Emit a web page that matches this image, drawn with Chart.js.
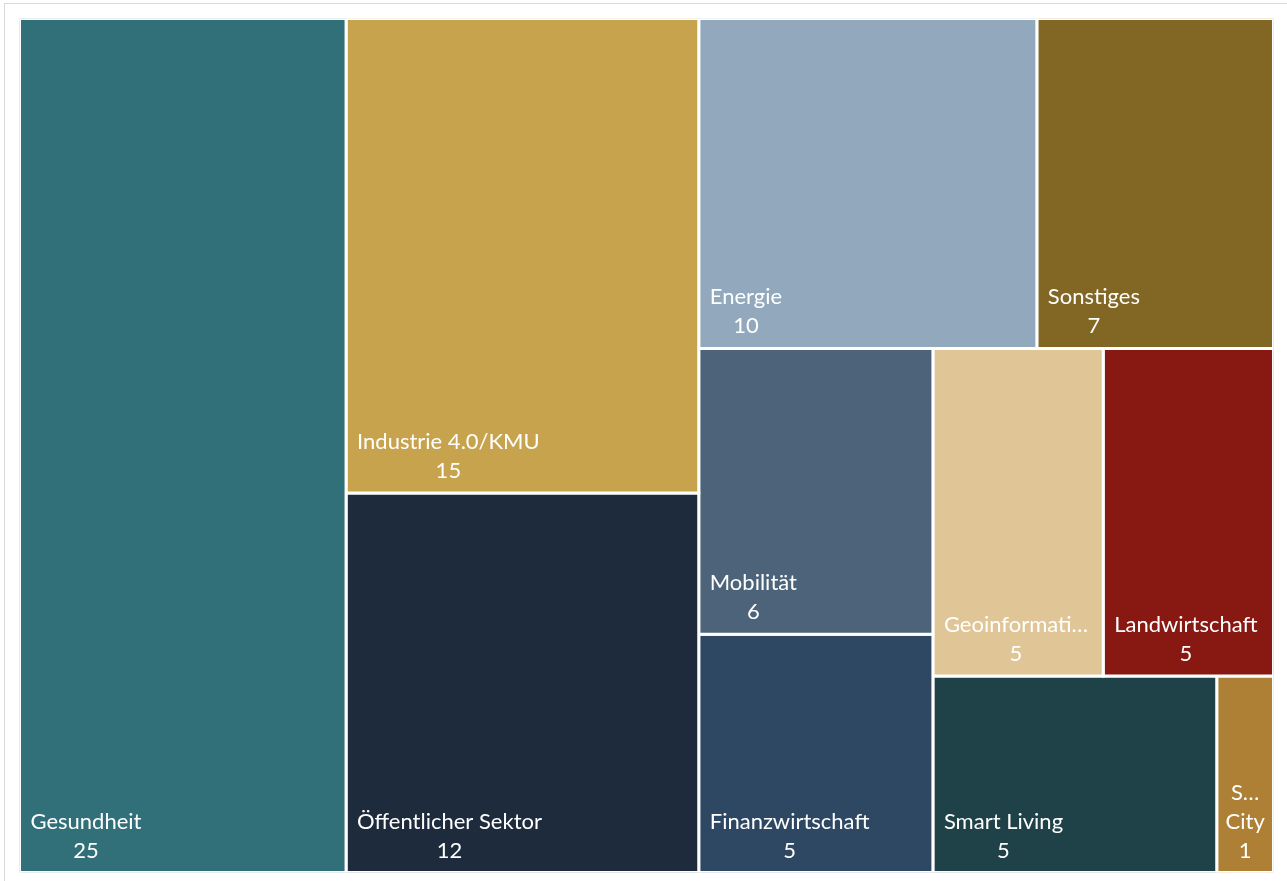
<!DOCTYPE html>
<html>
<head>
<meta charset="utf-8">
<script src="https://cdn.jsdelivr.net/npm/chart.js@4.4.1/dist/chart.umd.min.js"></script>
<style>
  html, body { margin: 0; padding: 0; background: #fff; }
  #frame { position: absolute; left: 4px; top: 3px; right: 0; bottom: 0;
           border-left: 1px solid #d9d9d9; border-top: 1px solid #d9d9d9; }
  #chart { position: absolute; left: 0; top: 0; }
</style>
</head>
<body>
<div id="frame"></div>
<canvas id="chart" width="1287" height="881"></canvas>
<script>
const categories = ['Gesundheit', 'Industrie 4.0/KMU', 'Öffentlicher Sektor', 'Energie', 'Sonstiges',
  'Mobilität', 'Finanzwirtschaft', 'Geoinformation', 'Landwirtschaft', 'Smart Living', 'Smart City'];
const values = [25, 15, 12, 10, 7, 6, 5, 5, 5, 5, 1];
const colors = ['#327079', '#c8a34e', '#1e2b3c', '#92a8bd', '#826624',
  '#4c6379', '#2e4864', '#e0c597', '#871812', '#1f4249', '#ad8035'];

// layout space of the treemap (data units of the hidden x / y scales)
const W = 200, H = 100;
const FONT = '22px Lato';
const PAD = 11;

const sum = arr => arr.reduce((a, b) => a + b, 0);

// squarified treemap, rows laid along the shorter side, y measured from the top
const squarify = vals => {
  const k = W * H / sum(vals);
  const rects = [];
  let x = 0, y = 0, w = W, h = H, i = 0;
  while (i < vals.length) {
    const vertical = w >= h;
    const side = vertical ? h : w;
    const worst = row => {
      const t = sum(row) * k / side;
      return Math.max(...row.map(v => Math.max(t * t / (v * k), v * k / (t * t))));
    };
    const row = [vals[i]];
    let j = i + 1;
    while (j < vals.length && worst([...row, vals[j]]) <= worst(row)) row.push(vals[j++]);
    const t = sum(row) * k / side;
    let off = 0;
    row.forEach(v => {
      const len = v * k / t;
      rects.push(vertical
        ? { x0: x, x1: x + t, y0: y + off, y1: y + off + len }
        : { x0: x + off, x1: x + off + len, y0: y, y1: y + t });
      off += len;
    });
    if (vertical) { x += t; w -= t; } else { y += t; h -= t; }
    i = j;
  }
  // flip to chart coordinates (y up)
  return rects.map(r => ({ x0: r.x0, x1: r.x1, top: H - r.y0, bottom: H - r.y1 }));
};

const cells = squarify(values);

const datasets = cells.map((c, i) => ({
  label: categories[i],
  data: [
    { x: c.x0, y: c.top }, { x: c.x1, y: c.top }, { x: c.x1, y: c.bottom },
    { x: c.x0, y: c.bottom }, { x: c.x0, y: c.top }
  ],
  showLine: true,
  fill: 'shape',
  backgroundColor: colors[i],
  borderColor: '#ffffff',
  borderWidth: 3,
  borderJoinStyle: 'miter',
  borderCapStyle: 'square',
  pointRadius: 0,
  pointHoverRadius: 0,
  tension: 0
}));

// fit a label into a width: wrap by words, cut words that are too long
const fitLines = (ctx, text, avail) => {
  if (ctx.measureText(text).width <= avail) return [text];
  const cut = word => {
    if (ctx.measureText(word).width <= avail) return word;
    let s = word;
    while (s.length > 1 && ctx.measureText(s + '…').width > avail) s = s.slice(0, -1);
    return s + '…';
  };
  const lines = [];
  let cur = '';
  text.split(' ').forEach(word => {
    const next = cur ? cur + ' ' + word : word;
    if (cur && ctx.measureText(next).width > avail) { lines.push(cut(cur)); cur = word; }
    else cur = next;
  });
  if (cur) lines.push(cut(cur));
  return lines;
};

const cellLabels = {
  id: 'cellLabels',
  afterDatasetsDraw(chart) {
    const { ctx, scales: { x, y } } = chart;
    ctx.save();
    ctx.font = FONT;
    ctx.fillStyle = '#ffffff';
    ctx.textBaseline = 'alphabetic';
    ctx.textAlign = 'center';
    cells.forEach((c, i) => {
      const left = x.getPixelForValue(c.x0);
      const right = x.getPixelForValue(c.x1);
      const bottom = y.getPixelForValue(c.bottom);
      const w = right - left;
      const margin = Math.min(10.5, w * 0.12);
      const lines = [...fitLines(ctx, categories[i], w - 2 * margin), String(values[i])];
      const blockW = Math.max(...lines.map(l => ctx.measureText(l).width));
      const cx = w < 80 ? (left + right) / 2 : left + PAD + blockW / 2;
      lines.forEach((l, n) => {
        ctx.fillText(l, cx, bottom - 15 - (lines.length - 1 - n) * 29);
      });
    });
    ctx.restore();
  }
};

new Chart(document.getElementById('chart'), {
  type: 'scatter',
  data: { datasets },
  options: {
    responsive: false,
    animation: false,
    layout: { padding: { left: 19.5, top: 18.5, right: 13.5, bottom: 8.5 } },
    scales: {
      x: { type: 'linear', min: 0, max: W, display: false },
      y: { type: 'linear', min: 0, max: H, display: false }
    },
    plugins: {
      legend: { display: false },
      tooltip: { enabled: false }
    }
  },
  plugins: [cellLabels]
});
</script>
</body>
</html>
